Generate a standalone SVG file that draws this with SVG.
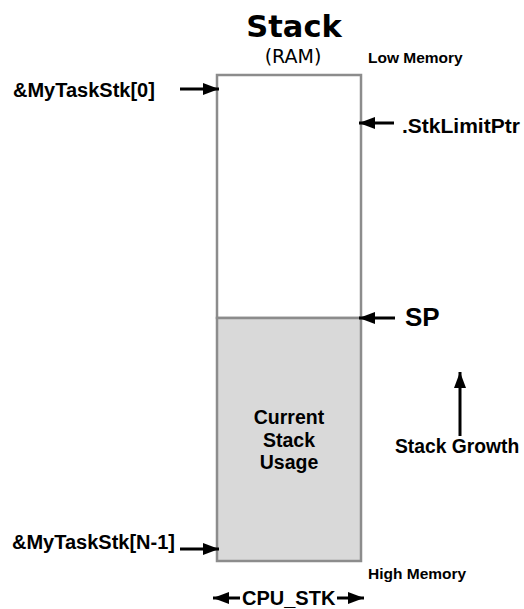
<svg xmlns="http://www.w3.org/2000/svg" width="524" height="609" viewBox="0 0 524 609">
<style>
.lbl{font-family:"Liberation Sans",Arial,sans-serif;font-weight:bold;fill:#000}
.conn{stroke:#000;stroke-width:3;fill:none}
.head{fill:#000}
</style>
<defs>
<marker id="ah" viewBox="0 0 16 12" refX="16" refY="6" markerWidth="16" markerHeight="12" markerUnits="userSpaceOnUse" orient="auto">
<path d="M0,0 L16,6 L0,12 Z" class="head"/>
</marker>
</defs>
<rect width="524" height="609" fill="#fff"/>
<g id="title">
<text x="294" y="37" text-anchor="middle" style="font-family:'DejaVu Sans',Verdana,sans-serif;font-weight:bold;font-size:30.5px">Stack</text>
<text x="293" y="63" text-anchor="middle" style="font-family:'DejaVu Sans',Verdana,sans-serif;font-size:19px">(RAM)</text>
</g>
<g id="stack">
<rect x="217" y="75" width="144" height="243" fill="#fff" stroke="#8c8c8c" stroke-width="2.5"/>
<rect x="217" y="318" width="144" height="243" fill="#d9d9d9" stroke="#8c8c8c" stroke-width="2.5"/>
<text class="lbl" x="289" y="424" text-anchor="middle" font-size="19.5">Current</text>
<text class="lbl" x="289" y="447" text-anchor="middle" font-size="19.5">Stack</text>
<text class="lbl" x="289" y="469" text-anchor="middle" font-size="19.5">Usage</text>
</g>
<g id="labels">
<text class="lbl" x="13" y="97" font-size="20">&amp;MyTaskStk[0]</text>
<text class="lbl" x="12" y="549" font-size="20">&amp;MyTaskStk[N-1]</text>
<text class="lbl" x="402" y="133" font-size="21">.StkLimitPtr</text>
<text class="lbl" x="405" y="326" font-size="26">SP</text>
<text class="lbl" x="395" y="453" font-size="19.3">Stack Growth</text>
<text class="lbl" x="368" y="63" font-size="15.5">Low Memory</text>
<text class="lbl" x="368" y="579" font-size="15.5">High Memory</text>
<text class="lbl" x="242" y="605" font-size="20">CPU_STK</text>
</g>
<g id="connectors">
<line class="conn" x1="180" y1="89" x2="219" y2="89" marker-end="url(#ah)"/>
<line class="conn" x1="180" y1="549" x2="219" y2="549" marker-end="url(#ah)"/>
<line class="conn" x1="394" y1="123" x2="359" y2="123" marker-end="url(#ah)"/>
<line class="conn" x1="395" y1="318" x2="359" y2="318" marker-end="url(#ah)"/>
<line class="conn" x1="460" y1="436" x2="460" y2="372" marker-end="url(#ah)"/>
<line class="conn" x1="240" y1="598" x2="213" y2="598" marker-end="url(#ah)"/>
<line class="conn" x1="337" y1="598" x2="364" y2="598" marker-end="url(#ah)"/>
</g>
</svg>
